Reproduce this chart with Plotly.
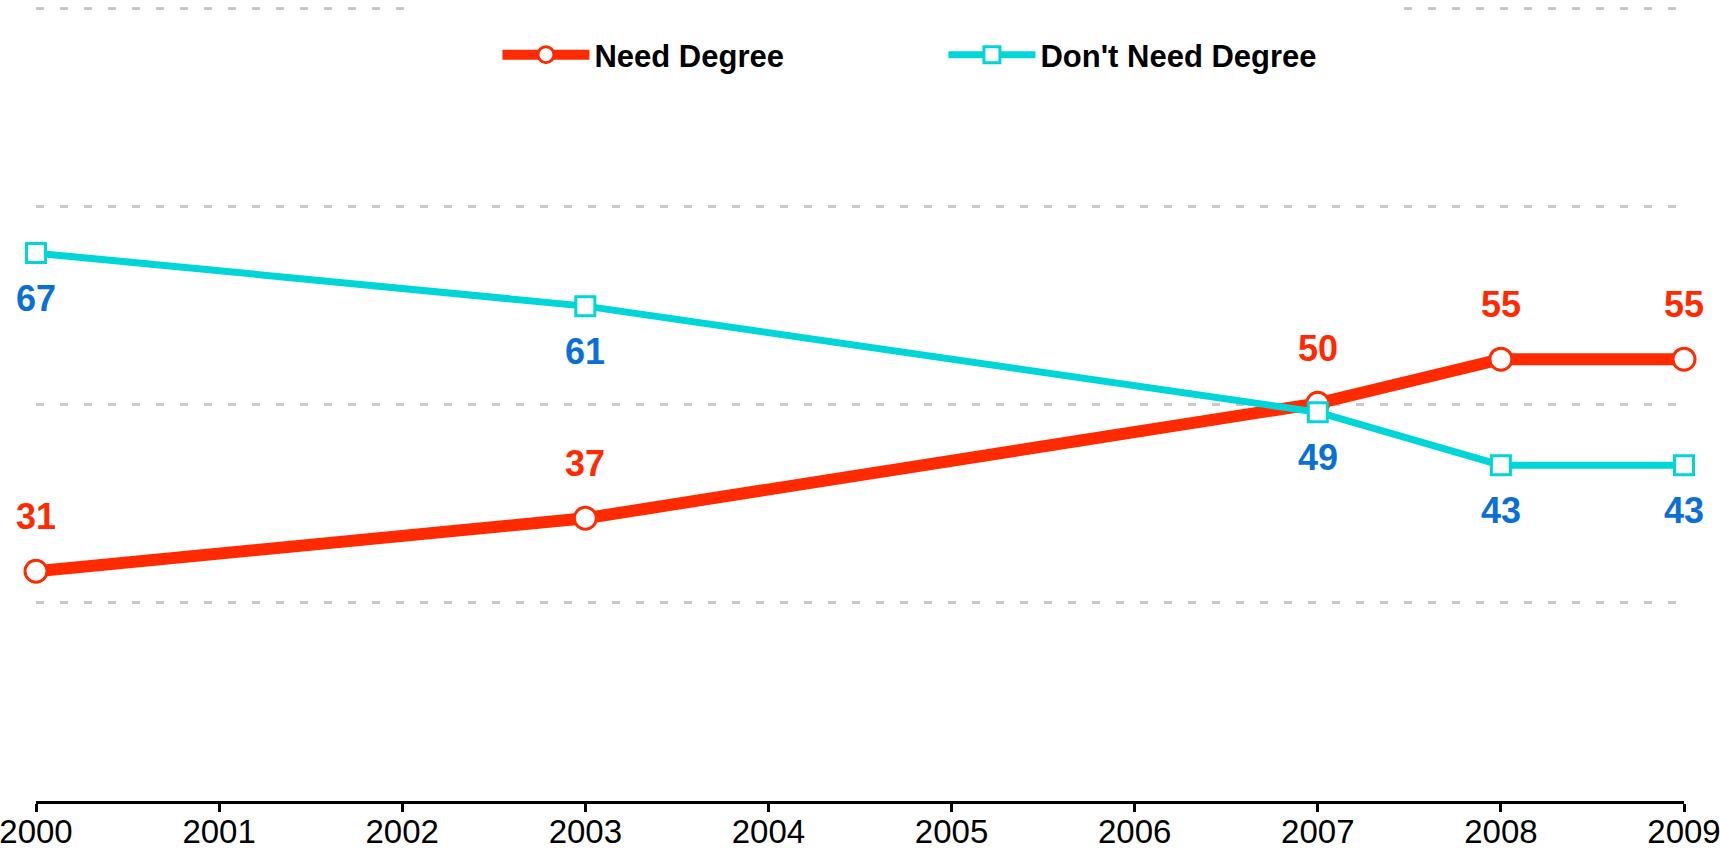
import plotly.graph_objects as go

years = [2000, 2003, 2007, 2008, 2009]
need_degree = [31, 37, 50, 55, 55]
dont_need_degree = [67, 61, 49, 43, 43]
tick_years = list(range(2000, 2010))

RED = "#ff2a00"
CYAN = "#00d5d8"
BLUE = "#0a70d8"
FONT = "Liberation Sans, Arial, sans-serif"

fig = go.Figure()
fig.add_trace(go.Scatter(
    x=years, y=need_degree, name="Need Degree", mode="lines+markers",
    line=dict(color=RED, width=12),
    marker=dict(symbol="circle", size=22, color="white", line=dict(color=RED, width=3)),
    cliponaxis=False,
))
fig.add_trace(go.Scatter(
    x=years, y=dont_need_degree, name="Don't Need Degree", mode="lines+markers",
    line=dict(color=CYAN, width=7),
    marker=dict(symbol="square", size=19, color="white", line=dict(color=CYAN, width=3)),
    cliponaxis=False,
))

annotations = []
for x, v in zip(years, need_degree):
    annotations.append(dict(x=x, y=v, text=str(v), showarrow=False, yshift=55,
                            font=dict(family=FONT, size=36, color=RED, weight="bold")))
for x, v in zip(years, dont_need_degree):
    annotations.append(dict(x=x, y=v, text=str(v), showarrow=False, yshift=-45,
                            font=dict(family=FONT, size=36, color=BLUE, weight="bold")))

y_lo, y_hi = 5, 95.19
grid_step = 22.4125
grid_vals = [y_lo + grid_step * k for k in range(1, 5)]

fig.update_layout(
    width=1720, height=858,
    margin=dict(l=36, r=36, t=4, b=57, autoexpand=False),
    paper_bgcolor="white", plot_bgcolor="white",
    showlegend=True,
    legend=dict(
        orientation="h", x=0.280, xanchor="left",
        yref="container", y=1 - 55 / 858, yanchor="middle",
        font=dict(family=FONT, size=31, color="black", weight="bold"),
        bgcolor="rgba(0,0,0,0)", itemwidth=87, entrywidth=344,
        itemsizing="trace",
    ),
    xaxis=dict(
        range=[2000, 2009], tickvals=tick_years, ticktext=[str(t) for t in tick_years],
        showline=True, linecolor="black", linewidth=3,
        ticks="outside", ticklen=8, tickwidth=3, tickcolor="black",
        showgrid=False, zeroline=False, automargin=False,
        ticklabelstandoff=-9, ticklabeloverflow="allow",
        tickfont=dict(family=FONT, size=33, color="black"),
    ),
    yaxis=dict(
        range=[y_lo, y_hi], tickvals=grid_vals, showticklabels=False,
        showgrid=True, gridcolor="#c8c8c8", gridwidth=3, griddash="8px,16px",
        zeroline=False, showline=False, automargin=False,
    ),
    annotations=annotations,
    shapes=[dict(type="rect", xref="paper", yref="y", x0=0.231, x1=0.821,
                 y0=90, y1=y_hi, fillcolor="white", line=dict(width=0), layer="above")],
)

fig.write_html(
    "out.html",
    config={"displayModeBar": False},
    post_script="document.body.style.margin='0';document.body.style.overflow='hidden';",
)
